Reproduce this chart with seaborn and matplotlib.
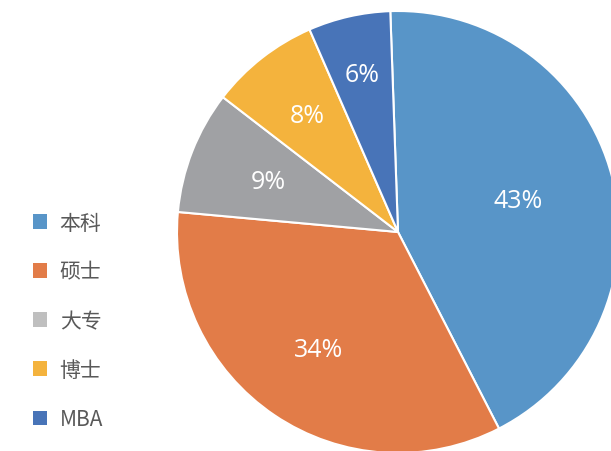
import numpy as np
import seaborn as sns
import matplotlib.pyplot as plt
from matplotlib.patches import Patch

# degree share of applicants
labels = ['本科', '硕士', '大专', '博士', 'MBA']
share = [43, 34, 9, 8, 6]
colors = ['#5895C8', '#E27C48', '#A0A1A4', '#F4B33D', '#4874B8']
legend_colors = ['#5895C8', '#E27C48', '#BFBFBF', '#F4B33D', '#4874B8']
label_r = [0.56, 0.64, 0.63, 0.67, 0.73]

sns.set_theme(style='white')
plt.rcParams['font.family'] = ['Noto Sans CJK SC', 'DejaVu Sans']

fig = plt.figure(figsize=(6.11, 4.52), dpi=100)
ax = fig.add_axes([177/611, -2/452, 442/611, 442/452])

wedges, texts, autotexts = ax.pie(
    share, colors=colors, startangle=92, counterclock=False,
    autopct='%d%%', pctdistance=0.65,
    wedgeprops=dict(edgecolor='white', linewidth=1.5),
    textprops=dict(color='white', fontsize=18, family=['Open Sans', 'DejaVu Sans']))

# move percent labels a bit, Excel style
for w, t, r in zip(wedges, autotexts, label_r):
    ang = np.deg2rad((w.theta1 + w.theta2) / 2)
    t.set_position((r * np.cos(ang), r * np.sin(ang)))

ax.set_xlim(-1, 1)
ax.set_ylim(-1, 1)
ax.set_aspect('equal')

handles = [Patch(facecolor=c, edgecolor='none') for c in legend_colors]
leg = fig.legend(handles, labels, loc='center left', bbox_to_anchor=(0.054, 0.288),
                 frameon=False, fontsize=15, handlelength=0.68, handleheight=0.68,
                 handletextpad=0.6, labelspacing=1.3, borderpad=0, borderaxespad=0)
for t in leg.get_texts():
    t.set_color('#595959')

fig.savefig('out.png', dpi=100)
